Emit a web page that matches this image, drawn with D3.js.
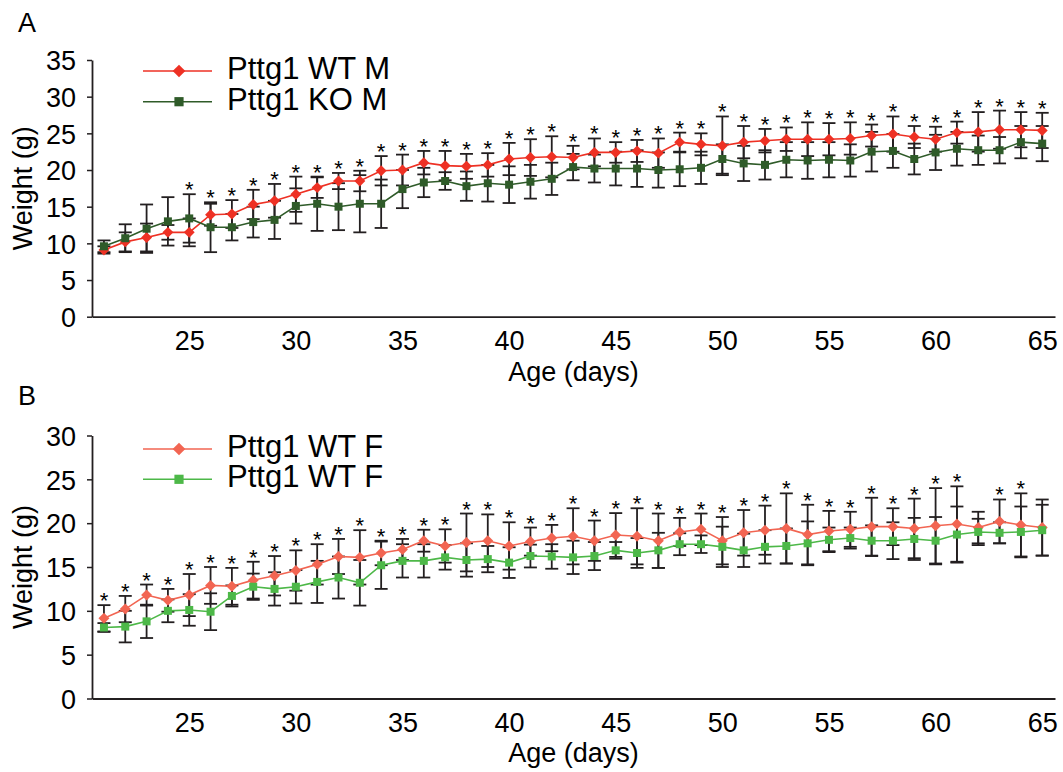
<!DOCTYPE html>
<html>
<head>
<meta charset="utf-8">
<script src="https://cdn.jsdelivr.net/npm/d3@7"></script>
<style>
  html, body { margin: 0; padding: 0; background: #fff; }
  svg { display: block; }
  text { font-family: "Liberation Sans", Arial, Helvetica, sans-serif; fill: #000; }
</style>
</head>
<body>
<svg id="chart" width="1063" height="772"></svg>
<script>
// ---------- DATA ----------
const days = [21,22,23,24,25,26,27,28,29,30,31,32,33,34,35,36,37,38,39,40,41,42,43,44,45,46,47,48,49,50,51,52,53,54,55,56,57,58,59,60,61,62,63,64,65];
const xTicks = [25,30,35,40,45,50,55,60,65];

// Panel A (males)
const wtM    = [9.1,10.2,10.8,11.5,11.5,13.9,14.0,15.3,15.8,16.7,17.6,18.5,18.5,19.9,20.0,21.0,20.6,20.5,20.7,21.5,21.7,21.8,21.7,22.4,22.4,22.6,22.3,23.8,23.5,23.3,23.8,24.0,24.2,24.2,24.2,24.3,24.7,24.9,24.5,24.2,25.1,25.2,25.5,25.5,25.4];
const wtMErr = [0.5,1.3,1.9,1.0,1.9,1.5,1.9,2.0,2.3,2.4,1.4,1.1,1.4,2.0,2.1,1.6,2.0,1.7,1.6,2.2,2.5,2.8,1.6,1.9,1.4,1.5,2.0,1.3,1.5,4.0,2.2,1.6,1.6,2.3,2.2,2.2,1.5,2.4,1.5,1.7,1.5,2.7,2.6,2.4,2.4];
const koM    = [9.6,10.7,12.0,13.0,13.4,12.2,12.2,12.9,13.2,15.1,15.4,15.0,15.4,15.4,17.4,18.3,18.5,17.8,18.2,18.0,18.4,18.8,20.4,20.2,20.2,20.2,20.0,20.1,20.3,21.5,20.9,20.7,21.4,21.3,21.4,21.3,22.5,22.6,21.5,22.4,22.9,22.7,22.7,23.8,23.6];
const koMErr = [0.8,1.9,3.3,3.3,3.3,3.4,1.8,2.1,2.6,2.4,3.7,3.2,3.9,3.3,2.6,2.0,1.2,2.0,2.5,2.5,2.3,2.2,1.8,1.9,2.3,2.5,2.4,2.3,2.2,2.0,2.4,2.0,2.4,2.5,2.4,2.2,2.7,2.3,2.1,2.4,2.3,2.0,1.8,2.2,2.4];
const sigDaysA = [25,26,27,28,29,30,31,32,33,34,35,36,37,38,39,40,41,42,43,44,45,46,47,48,49,50,51,52,53,54,55,56,57,58,59,60,61,62,63,64,65];
const yTicksA = [0,5,10,15,20,25,30,35];

// Panel B (females)
const wtF     = [9.15,10.2,11.8,11.2,11.8,12.9,12.8,13.5,14.0,14.6,15.3,16.2,16.1,16.6,17.0,18.0,17.4,17.8,18.0,17.4,17.9,18.3,18.5,18.0,18.65,18.5,18.0,19.0,19.3,18.0,18.9,19.2,19.4,18.7,19.1,19.3,19.6,19.6,19.4,19.7,19.9,19.5,20.2,19.8,19.5];
const wtFErr  = [1.5,1.5,1.2,1.3,2.4,2.1,2.1,2.1,2.25,2.3,2.3,2.0,3.1,1.4,1.2,1.25,1.9,3.3,3.0,2.7,1.6,1.5,3.2,2.3,2.5,3.2,3.1,1.6,1.8,2.7,2.6,2.8,4.0,3.4,2.3,2.0,3.3,2.1,3.4,4.3,4.3,1.8,2.5,3.6,3.2];
const wtF2    = [8.1,8.2,8.8,10.0,10.1,9.9,11.7,12.75,12.5,12.75,13.3,13.8,13.2,15.2,15.7,15.7,16.1,15.8,15.9,15.5,16.25,16.2,16.1,16.25,16.9,16.6,16.9,17.6,17.6,17.3,16.9,17.3,17.4,17.7,18.1,18.3,18.0,18.0,18.2,18.0,18.7,19.0,18.9,19.0,19.2];
const wtF2Err = [0.5,1.8,1.9,1.3,1.8,2.1,1.2,1.5,1.9,1.9,2.4,2.4,2.6,2.7,1.9,1.9,1.4,1.9,1.5,1.75,1.3,1.4,1.9,1.6,0.95,1.7,2.0,1.25,1.0,2.3,1.9,1.9,2.0,2.5,1.4,1.2,1.75,2.1,2.4,2.7,3.2,1.5,1.2,2.9,2.9];
const sigDaysB = [21,22,23,24,25,26,27,28,29,30,31,32,33,34,35,36,37,38,39,40,41,42,43,44,45,46,47,48,49,50,51,52,53,54,55,56,57,58,59,60,61,63,64];
const yTicksB = [0,5,10,15,20,25,30];

const panelLabels = ["A", "B"];
const legendA = ["Pttg1 WT M", "Pttg1 KO M"];
const legendB = ["Pttg1 WT F", "Pttg1 WT F"];
const xTitle = "Age (days)";
const yTitle = "Weight (g)";

// ---------- LAYOUT ----------
const svg = d3.select("#chart");
const FONT = '"Liberation Sans", Arial, Helvetica, sans-serif';
const x = d3.scaleLinear().domain([20.44, 65.6]).range([92, 1055]);

const panels = [
  { label: panelLabels[0], labelY: 32, top: 60, bottom: 316.7, ymax: 35, yTicks: yTicksA,
    legend: legendA, legendY: [71, 101.7], titleY: 381, sig: sigDaysA,
    series: [
      { vals: wtM, err: wtMErr, color: "#EE3124", shape: "diamond" },
      { vals: koM, err: koMErr, color: "#2F5B29", shape: "square" }
    ] },
  { label: panelLabels[1], labelY: 405, top: 435.5, bottom: 698.5, ymax: 30, yTicks: yTicksB,
    legend: legendB, legendY: [449, 479.3], titleY: 762, sig: sigDaysB,
    series: [
      { vals: wtF, err: wtFErr, color: "#F26552", shape: "diamond" },
      { vals: wtF2, err: wtF2Err, color: "#4DB848", shape: "square" }
    ] }
];

const diamondPath = d3.symbol().type(d3.symbolSquare).size(60)();
const squarePath = d3.symbol().type(d3.symbolSquare).size(64)();
function drawMarker(g, shape, cx, cy, color, scale) {
  scale = scale || 1;
  if (shape === "diamond") {
    g.append("path").attr("d", diamondPath)
      .attr("transform", `translate(${cx},${cy}) rotate(45) scale(${scale})`)
      .attr("fill", color);
  } else {
    g.append("path").attr("d", squarePath)
      .attr("transform", `translate(${cx},${cy}) scale(${scale})`)
      .attr("fill", color);
  }
}

panels.forEach(p => {
  const y = d3.scaleLinear().domain([0, p.ymax]).range([p.bottom, p.top]);
  const g = svg.append("g");

  // panel letter
  g.append("text").attr("x", 18).attr("y", p.labelY)
    .style("font-size", "27px").text(p.label);

  // y axis
  const ya = g.append("g").attr("transform", `translate(${x.range()[0]},0)`)
    .call(d3.axisLeft(y).tickValues(p.yTicks).tickSize(5).tickPadding(11).tickSizeOuter(0));
  ya.selectAll("text").style("font-size", "27px").style("font-family", FONT).attr("dy", "0.36em");
  ya.selectAll("line").attr("stroke", "#231f20").attr("stroke-width", 1.5);
  ya.select(".domain").attr("stroke", "#231f20").attr("stroke-width", 1.8);

  // x axis
  const xa = g.append("g").attr("transform", `translate(0,${p.bottom})`)
    .call(d3.axisBottom(x).tickValues(xTicks).tickSize(0).tickPadding(14).tickSizeOuter(0));
  xa.selectAll("text").style("font-size", "27px").style("font-family", FONT);
  xa.select(".domain").attr("stroke", "#231f20").attr("stroke-width", 1.8);

  // axis titles
  g.append("text").attr("x", (x.range()[0] + x.range()[1]) / 2).attr("y", p.titleY)
    .attr("text-anchor", "middle").style("font-size", "27px").text(xTitle);
  g.append("text")
    .attr("transform", `translate(32,${(p.top + p.bottom) / 2}) rotate(-90)`)
    .attr("text-anchor", "middle").style("font-size", "27px").text(yTitle);

  // error bars
  const cap = 6.5;
  p.series.forEach(s => {
    const eb = g.append("g").attr("stroke", "#231f20").attr("stroke-width", 1.8);
    days.forEach((d, i) => {
      const cx = x(d), y1 = y(s.vals[i] + s.err[i]), y2 = y(s.vals[i] - s.err[i]);
      eb.append("line").attr("x1", cx).attr("x2", cx).attr("y1", y1).attr("y2", y2);
      eb.append("line").attr("x1", cx - cap).attr("x2", cx + cap).attr("y1", y1).attr("y2", y1);
      eb.append("line").attr("x1", cx - cap).attr("x2", cx + cap).attr("y1", y2).attr("y2", y2);
    });
  });

  // lines + markers
  p.series.forEach(s => {
    const line = d3.line().x((d, i) => x(days[i])).y(d => y(d));
    g.append("path").datum(s.vals).attr("d", line)
      .attr("fill", "none").attr("stroke", s.color).attr("stroke-width", 1.6);
    const mg = g.append("g");
    s.vals.forEach((v, i) => drawMarker(mg, s.shape, x(days[i]), y(v), s.color));
  });

  // significance asterisks
  p.sig.forEach(d => {
    const i = days.indexOf(d);
    const top = Math.min(...p.series.map(s => y(s.vals[i] + s.err[i])));
    g.append("text").attr("x", x(d)).attr("y", top + 3)
      .attr("text-anchor", "middle").style("font-size", "22px").text("*");
  });

  // legend
  p.series.forEach((s, k) => {
    const ly = p.legendY[k];
    g.append("line").attr("x1", 143).attr("x2", 212).attr("y1", ly).attr("y2", ly)
      .attr("stroke", s.color).attr("stroke-width", 1.6);
    drawMarker(g, s.shape, 179, ly, s.color, 1.15);
    g.append("text").attr("x", 227).attr("y", ly + 8)
      .style("font-size", "31px").text(p.legend[k]);
  });
});
</script>
</body>
</html>
